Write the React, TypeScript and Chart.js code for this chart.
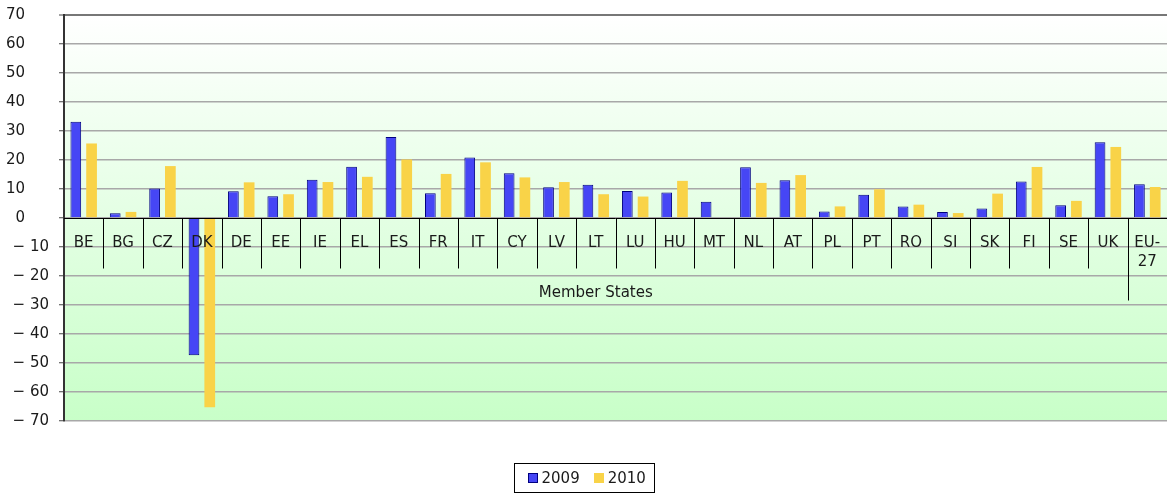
import React, { useEffect, useRef } from "react";
import { Chart, registerables } from "chart.js";

Chart.register(...registerables);

const categories: string[][] = [
  ["BE"], ["BG"], ["CZ"], ["DK"], ["DE"], ["EE"], ["IE"], ["EL"], ["ES"], ["FR"],
  ["IT"], ["CY"], ["LV"], ["LT"], ["LU"], ["HU"], ["MT"], ["NL"], ["AT"], ["PL"],
  ["PT"], ["RO"], ["SI"], ["SK"], ["FI"], ["SE"], ["UK"], ["EU-", "27"],
];

const values2009: (number | null)[] = [
  33.2, 1.6, 10.2, -47.3, 9.2, 7.5, 13.2, 17.7, 27.9, 8.5,
  20.9, 15.4, 10.6, 11.5, 9.3, 8.8, 5.6, 17.5, 13.0, 2.2,
  8.0, 4.0, 2.1, 3.3, 12.6, 4.4, 26.1, 11.6,
];

const values2010: (number | null)[] = [
  25.7, 2.1, 17.9, -65.3, 12.3, 8.2, 12.4, 14.2, 20.2, 15.2,
  19.2, 14.0, 12.4, 8.2, 7.4, 12.8, null, 12.1, 14.8, 4.0,
  9.9, 4.6, 1.7, 8.4, 17.6, 5.9, 24.5, 10.7,
];

const seriesLabels = ["2009", "2010"];
const axisTitle = "Member States";
const yMin = -70;
const yMax = 70;
const yStep = 10;

const FONT = "DejaVu Sans, Verdana, sans-serif";

function formatTick(v: number): string {
  if (v < 0) return "\u2212 " + String(-v);
  return String(v) + "\u2007\u2007 ";
}

const overlayPlugin = {
  id: "overlay",
  beforeDraw(chart: any) {
    const { ctx, chartArea } = chart;
    const g = ctx.createLinearGradient(0, chartArea.top, 0, chartArea.bottom);
    g.addColorStop(0, "#ffffff");
    g.addColorStop(1, "#c8ffc8");
    ctx.save();
    ctx.fillStyle = g;
    ctx.fillRect(chartArea.left, chartArea.top, chartArea.right - chartArea.left, chartArea.bottom - chartArea.top);
    ctx.restore();
  },
  afterDraw(chart: any) {
    const { ctx, chartArea } = chart;
    const x = chart.scales.x;
    const y = chart.scales.y;
    const y0 = Math.round(y.getPixelForValue(0)) + 0.5;
    const half = (x.getPixelForValue(1) - x.getPixelForValue(0)) / 2;
    ctx.save();
    // zero line
    ctx.strokeStyle = "#000";
    ctx.lineWidth = 1;
    ctx.beginPath();
    ctx.moveTo(chartArea.left, y0);
    ctx.lineTo(chartArea.right, y0);
    ctx.stroke();
    // separators
    const n = categories.length;
    for (let i = 1; i < n; i++) {
      const bx = Math.round(x.getPixelForValue(i) - half) + 0.5;
      const len = i === n - 1 ? 82 : 50;
      ctx.beginPath();
      ctx.moveTo(bx, y0);
      ctx.lineTo(bx, y0 + len);
      ctx.stroke();
    }
    // category labels
    ctx.fillStyle = "#1a1a1a";
    ctx.font = "15px " + FONT;
    ctx.textAlign = "center";
    ctx.textBaseline = "alphabetic";
    for (let i = 0; i < n; i++) {
      const cx = x.getPixelForValue(i);
      categories[i].forEach((line, j) => {
        ctx.fillText(line, cx, y0 + 28 + j * 19);
      });
    }
    // axis title centered over member states (excluding EU-27)
    const tx = (x.getPixelForValue(0) - half + x.getPixelForValue(n - 2) + half) / 2;
    ctx.fillText(axisTitle, tx, y0 + 78);

    // legend
    const ds = chart.data.datasets;
    const cw = chart.width;
    const legTop = 463.5;
    const legH = 29;
    const widths = ds.map((d: any) => ctx.measureText(d.label).width);
    const box = 10;
    const gapBoxText = 4;
    const gapItems = 14;
    let inner = 0;
    widths.forEach((w: number, i: number) => {
      inner += box + gapBoxText + w + (i < widths.length - 1 ? gapItems : 0);
    });
    const padL = 13;
    const padR = 9;
    const totalW = inner + padL + padR;
    const left = Math.round(cw / 2 - totalW / 2) + 0.5;
    ctx.strokeStyle = "#000";
    ctx.lineWidth = 1;
    ctx.strokeRect(left, legTop, Math.round(totalW), legH);
    let cx = left + padL;
    const cy = legTop + legH / 2;
    ctx.textAlign = "left";
    ctx.textBaseline = "middle";
    ds.forEach((d: any, i: number) => {
      ctx.fillStyle = d.backgroundColor;
      ctx.fillRect(Math.round(cx), Math.round(cy - box / 2), box, box);
      if (d.borderWidth > 0) {
        ctx.strokeStyle = d.borderColor;
        ctx.strokeRect(Math.round(cx) + 0.5, Math.round(cy - box / 2) + 0.5, box - 1, box - 1);
      }
      cx += box + gapBoxText;
      ctx.fillStyle = "#1a1a1a";
      ctx.fillText(d.label, cx, cy + 1);
      cx += widths[i] + gapItems;
    });
    ctx.restore();
  },
};

export default function App() {
  const ref = useRef<HTMLCanvasElement | null>(null);
  useEffect(() => {
    document.body.style.margin = "0";
    const canvas = ref.current;
    if (!canvas) return;
    const chart = new Chart(canvas, {
      type: "bar",
      data: {
        labels: categories.map((c) => c.join("")),
        datasets: [
          {
            label: seriesLabels[0],
            data: values2009,
            backgroundColor: "#4646f5",
            borderColor: "#000080",
            borderWidth: 1,
            categoryPercentage: 0.8,
            barPercentage: 0.68,
          },
          {
            label: seriesLabels[1],
            data: values2010,
            backgroundColor: "#f9d348",
            borderColor: "#f9d348",
            borderWidth: 0,
            categoryPercentage: 0.8,
            barPercentage: 0.68,
          },
        ],
      },
      options: {
        responsive: false,
        animation: false,
        devicePixelRatio: 1,
        layout: { padding: { left: 0, top: 15, right: 1, bottom: 72 } },
        plugins: {
          legend: { display: false },
          tooltip: { enabled: false },
          title: { display: false },
        },
        scales: {
          x: {
            display: false,
            offset: true,
          },
          y: {
            min: yMin,
            max: yMax,
            afterFit(scale: any) {
              scale.width = 64;
              scale.paddingTop = 0;
              scale.paddingBottom = 0;
            },
            border: { display: true, color: "#333", width: 2 },
            grid: {
              color: (c: any) => (c.tick && c.tick.value === yMax ? "#777" : "#a8a8a8"),
              lineWidth: (c: any) => (c.tick && c.tick.value === yMax ? 2 : 1.5),
              tickColor: "#444",
              tickLength: 5,
              tickWidth: 1,
            },
            ticks: {
              stepSize: yStep,
              padding: 10,
              color: "#1a1a1a",
              font: { family: FONT, size: 15 },
              callback: (v: any) => formatTick(Number(v)),
            },
          },
        },
      },
      plugins: [overlayPlugin],
    });
    return () => chart.destroy();
  }, []);
  return (
    <div style={{ width: 1168, height: 493 }}>
      <canvas ref={ref} width={1168} height={493} />
    </div>
  );
}
